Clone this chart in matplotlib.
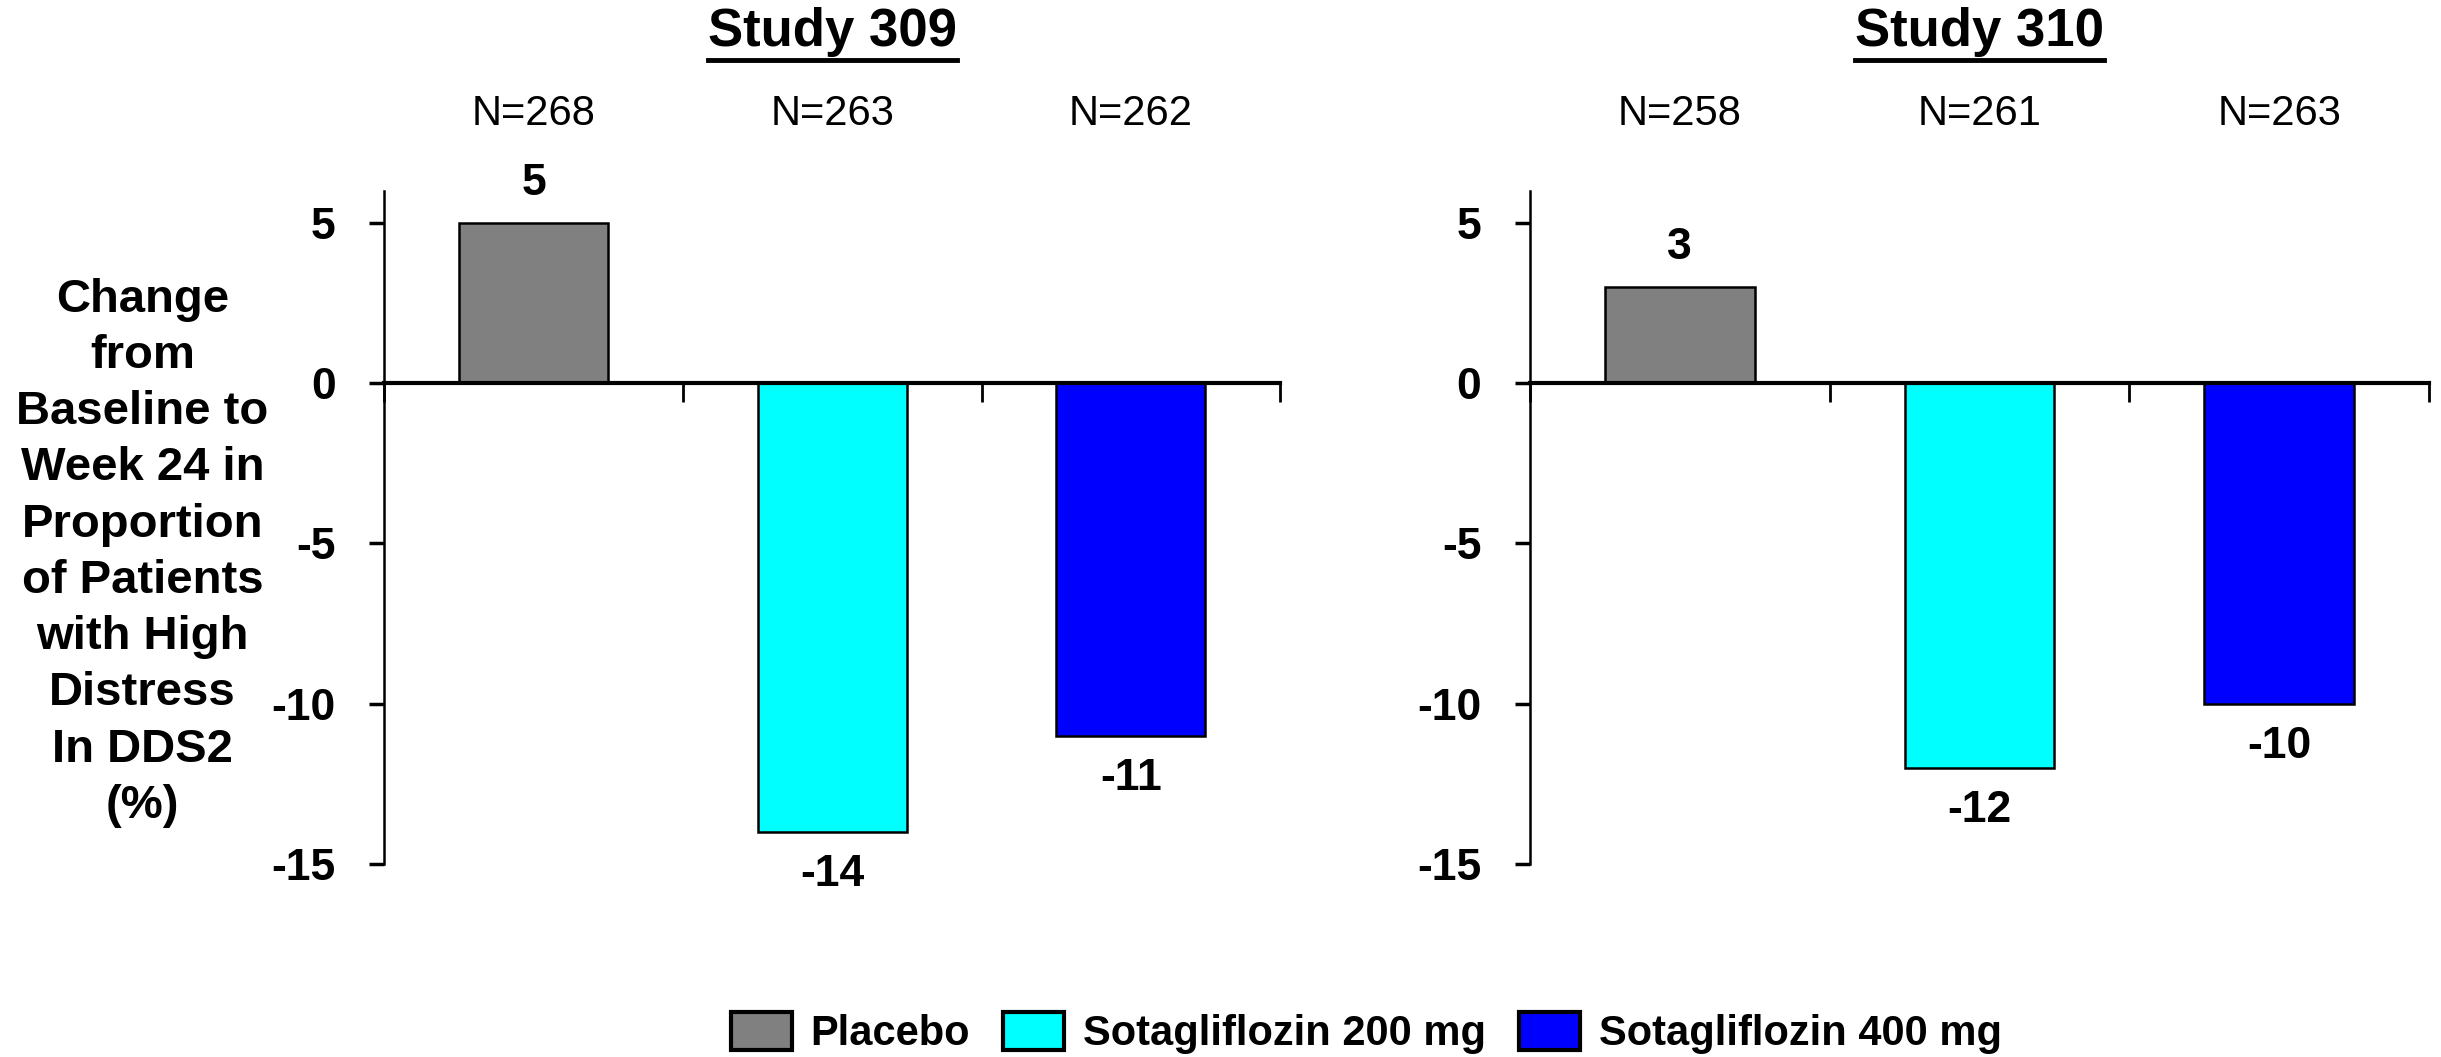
import numpy as np
import matplotlib
matplotlib.use("Agg")
import matplotlib.pyplot as plt
from matplotlib.patches import Patch
from matplotlib.lines import Line2D

plt.rcParams['font.family'] = ['Liberation Sans', 'DejaVu Sans']

studies = ['Study 309', 'Study 310']
groups = ['Placebo', 'Sotagliflozin 200 mg', 'Sotagliflozin 400 mg']
colors = ['#808080', '#00FFFF', '#0000FF']
values_309 = [5, -14, -11]
values_310 = [3, -12, -10]
n_309 = [268, 263, 262]
n_310 = [258, 261, 263]
ylabel = ('Change\nfrom\nBaseline to\nWeek 24 in\nProportion\nof Patients\n'
          'with High\nDistress\nIn DDS2\n(%)')

fig = plt.figure(figsize=(24.41, 10.57), dpi=100)
ax1 = fig.add_axes([0.1575, 0.1826, 0.3669, 0.637])
ax2 = fig.add_axes([0.6268, 0.1826, 0.3683, 0.637])

x = np.arange(len(groups)) + 0.5
titles = []
for ax, study, vals, ns in [(ax1, studies[0], values_309, n_309),
                            (ax2, studies[1], values_310, n_310)]:
    ax.bar(x, vals, width=0.5, color=colors, edgecolor='black', linewidth=1.8, zorder=2)
    ax.set_xlim(0, 3)
    ax.set_ylim(-15, 6)
    ax.set_xticks([0, 1, 2, 3])
    ax.set_xticklabels([])
    ax.set_yticks([-15, -10, -5, 0, 5])
    ax.set_yticklabels(['-15', '-10', '-5', '0', '5'], fontsize=32, fontweight='bold')
    ax.spines['top'].set_visible(False)
    ax.spines['right'].set_visible(False)
    ax.spines['bottom'].set_position(('data', 0))
    ax.spines['bottom'].set_linewidth(3)
    ax.spines['bottom'].set_zorder(3)
    ax.spines['left'].set_linewidth(1.8)
    ax.tick_params(axis='y', direction='out', length=11, width=2.5, pad=24)
    ax.tick_params(axis='x', direction='out', length=14, width=2)
    for xi, v in zip(x, vals):
        off = 28 if v > 0 else -31
        ax.annotate(str(v), (xi, v), xytext=(0, off), textcoords='offset points',
                    ha='center', va='center', fontsize=32, fontweight='bold')
    for xi, n in zip(x, ns):
        ax.text(xi, 1.114, 'N=%d' % n, transform=ax.get_xaxis_transform(),
                ha='center', va='center', fontsize=30)
    bb = ax.get_position()
    t = fig.text((bb.x0 + bb.x1) / 2, 1 - 32 / 1057, study, ha='center', va='center',
                 fontsize=38, fontweight='bold')
    titles.append(t)

fig.text(0.0584, 0.477, ylabel, ha='center', va='center', fontsize=34,
         fontweight='bold', linespacing=1.36, multialignment='center')

handles = [Patch(facecolor=c, edgecolor='black', linewidth=3) for c in colors]
fig.legend(handles, groups, loc='center', bbox_to_anchor=(0.5598, 0.0225), ncol=3,
           frameon=False, prop={'size': 30, 'weight': 'bold'}, handlelength=1.46,
           handleheight=1.0, handletextpad=0.45, columnspacing=0.8)

# underline the study titles
fig.canvas.draw()
r = fig.canvas.get_renderer()
for t in titles:
    bb = t.get_window_extent(r).transformed(fig.transFigure.inverted())
    y = bb.y0 - 0.003
    fig.add_artist(Line2D([bb.x0, bb.x1], [y, y], color='black', linewidth=3.5,
                          transform=fig.transFigure))

fig.savefig('out.png', dpi=100)
